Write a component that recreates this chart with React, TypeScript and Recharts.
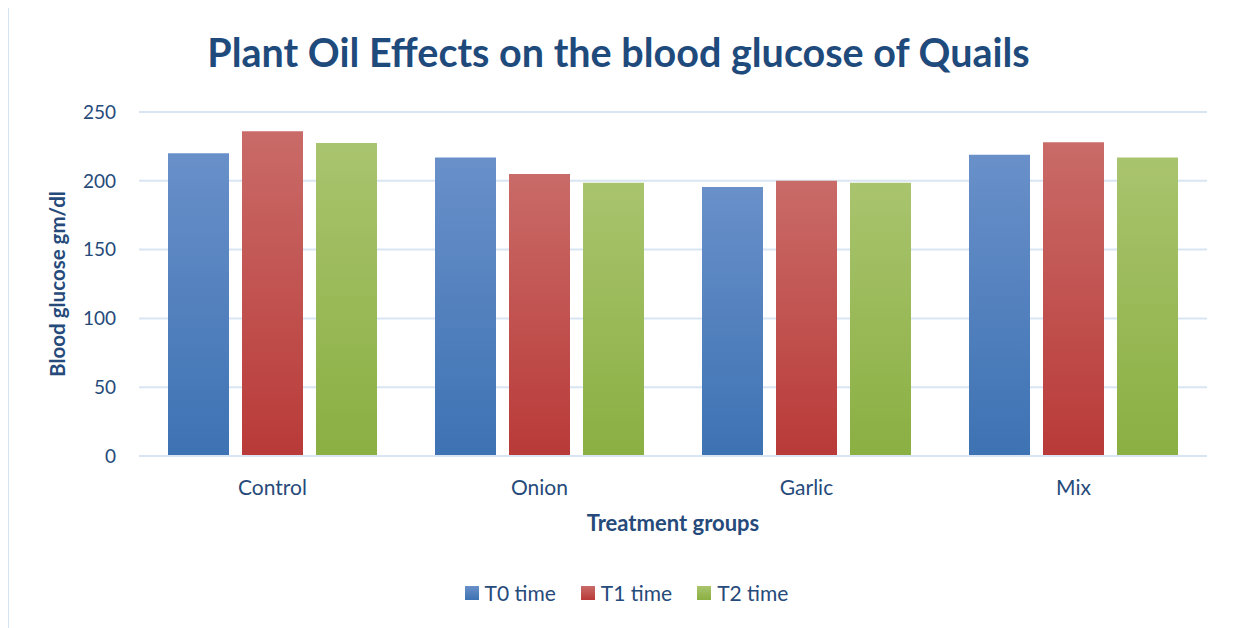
import React from 'react';
import {
  BarChart,
  Bar,
  XAxis,
  YAxis,
  CartesianGrid,
  Legend,
  Label,
} from 'recharts';

// Grupos de tratamento e valores
const GROUPS = ['Control', 'Onion', 'Garlic', 'Mix'];
const T0 = [220, 217, 195.5, 219];
const T1 = [236, 205, 200, 228];
const T2 = [227.5, 198.5, 198.5, 217];
const Y_TICKS = [0, 50, 100, 150, 200, 250];

const SERIES = [
  { key: 't0', name: 'T0 time', top: '#6990c9', bottom: '#3d72b3' },
  { key: 't1', name: 'T1 time', top: '#c96b68', bottom: '#b93a38' },
  { key: 't2', name: 'T2 time', top: '#a9c46e', bottom: '#8aaf42' },
];

const chartData = GROUPS.map((g, i) => ({ group: g, t0: T0[i], t1: T1[i], t2: T2[i] }));

const TEXT = '#264a7a';
const FONT = 'Lato, "Open Sans", sans-serif';

const renderLegend = () => (
  <div
    style={{
      display: 'flex',
      justifyContent: 'center',
      gap: 25,
      paddingLeft: 20,
      fontFamily: FONT,
      fontSize: 21,
      color: TEXT,
    }}
  >
    {SERIES.map((s) => (
      <div key={s.key} style={{ display: 'flex', alignItems: 'center', gap: 6 }}>
        <div style={{ width: 14, height: 14, background: `linear-gradient(${s.top}, ${s.bottom})` }} />
        <span>{s.name}</span>
      </div>
    ))}
  </div>
);

export default function App() {
  return (
    <div style={{ position: 'relative', width: 1233, height: 628, marginLeft: -8, marginTop: -8, background: '#fff' }}>
      {/* bordas do gráfico */}
      <div style={{ position: 'absolute', left: 8, top: 6, width: 1225, height: 2, background: '#d6e3f3' }} />
      <div style={{ position: 'absolute', left: 7, top: 6, width: 2, height: 622, background: '#d6e3f3' }} />
      <div
        style={{
          position: 'absolute',
          top: 28,
          width: '100%',
          textAlign: 'center',
          fontFamily: FONT,
          fontWeight: 'bold',
          fontSize: 39.5,
          color: '#1f4a7c',
          marginLeft: 2,
        }}
      >
        Plant Oil Effects on the blood glucose of Quails
      </div>
      <BarChart
        width={1233}
        height={628}
        data={chartData}
        margin={{ top: 112, right: 26, left: 79, bottom: 47 }}
        barGap={13}
        barCategoryGap={29}
      >
        <defs>
          {SERIES.map((s) => (
            <linearGradient key={s.key} id={`grad-${s.key}`} x1="0" y1="0" x2="0" y2="1">
              <stop offset="0%" stopColor={s.top} />
              <stop offset="100%" stopColor={s.bottom} />
            </linearGradient>
          ))}
        </defs>
        <CartesianGrid vertical={false} stroke="#d9e5f3" strokeWidth={2} />
        <XAxis
          dataKey="group"
          axisLine={{ stroke: '#d9e5f3', strokeWidth: 2 }}
          tickLine={false}
          tickSize={0}
          tickMargin={24}
          height={100}
          tick={{ fontSize: 21, fill: TEXT, fontFamily: FONT }}
        >
          <Label
            value="Treatment groups"
            position="insideTop"
            offset={59}
            style={{ fontSize: 22, fontWeight: 'bold', fill: TEXT, fontFamily: FONT }}
          />
        </XAxis>
        <YAxis
          domain={[0, 250]}
          ticks={Y_TICKS}
          axisLine={false}
          tickLine={false}
          tickSize={0}
          tickMargin={23}
          width={60}
          tick={{ fontSize: 19, fill: TEXT, fontFamily: FONT }}
        >
          <Label
            value="Blood glucose gm/dl"
            angle={-90}
            position="insideLeft"
            offset={-21}
            style={{ textAnchor: 'middle', fontSize: 20.5, fontWeight: 'bold', fill: TEXT, fontFamily: FONT }}
          />
        </YAxis>
        <Legend
          content={renderLegend}
          wrapperStyle={{ position: 'absolute', top: 580, left: 0, width: 1233, bottom: 'auto' }}
        />
        {SERIES.map((s) => (
          <Bar key={s.key} dataKey={s.key} name={s.name} fill={`url(#grad-${s.key})`} isAnimationActive={false} />
        ))}
      </BarChart>
    </div>
  );
}
